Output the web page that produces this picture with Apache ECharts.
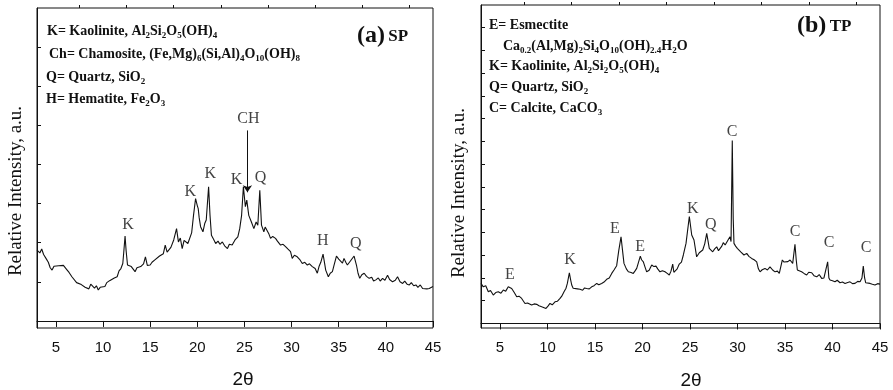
<!DOCTYPE html>
<html>
<head>
<meta charset="utf-8">
<script src="https://cdn.jsdelivr.net/npm/echarts@6/dist/echarts.min.js"></script>
<style>
  html, body { margin: 0; padding: 0; background: #fff; }
  #chart { width: 893px; height: 390px; }
</style>
</head>
<body>
<div id="chart"></div>
<script>
var myChart = echarts.init(document.getElementById("chart"));

// 2θ values and relative intensity (a.u.)
const spTheta = [3.0,3.3,3.5,3.7,4.0,4.2,4.4,4.6,4.8,5.0,5.3,5.5,5.8,6.0,6.2,6.4,6.7,6.9,7.2,7.4,7.7,7.9,8.1,8.3,8.5,8.7,8.9,9.1,9.3,9.5,9.7,9.9,10.2,10.4,10.7,10.9,11.2,11.5,11.7,11.9,12.1,12.2,12.34,12.45,12.6,12.8,13.0,13.2,13.4,13.6,13.8,14.0,14.3,14.5,14.7,15.0,15.2,15.5,15.7,16.0,16.2,16.4,16.6,16.8,17.0,17.2,17.5,17.8,18.0,18.2,18.4,18.6,18.8,19.0,19.2,19.4,19.6,19.82,20.0,20.1,20.2,20.35,20.6,20.8,20.95,21.2,21.35,21.5,21.7,21.95,22.2,22.4,22.66,22.9,23.2,23.4,23.7,24.0,24.3,24.5,24.7,24.89,25.1,25.25,25.46,25.74,26.0,26.24,26.42,26.63,26.81,27.06,27.2,27.41,27.6,27.77,28.0,28.3,28.5,28.83,29.1,29.36,29.6,29.89,30.07,30.3,30.6,30.9,31.14,31.4,31.67,31.9,32.2,32.5,32.73,32.91,33.1,33.34,33.5,33.62,33.9,34.1,34.33,34.5,34.76,35.0,35.21,35.4,35.56,35.75,35.92,36.2,36.63,36.88,37.05,37.23,37.45,37.7,37.95,38.23,38.5,38.7,38.94,39.2,39.4,39.65,39.9,40.18,40.4,40.71,41.0,41.24,41.5,41.78,42.0,42.25,42.49,42.7,42.95,43.19,43.4,43.65,43.9,44.1,44.35,44.6,44.8,45.0];
const spInt = [1.81,1.74,1.84,1.70,1.58,1.50,1.36,1.30,1.40,1.43,1.41,1.45,1.42,1.44,1.30,1.24,1.13,1.10,0.98,1.00,0.93,0.92,0.86,0.90,0.82,0.94,0.96,0.84,0.90,0.79,0.86,0.84,0.88,0.98,1.03,1.06,1.10,1.13,1.28,1.34,1.47,1.75,2.17,1.80,1.43,1.45,1.39,1.34,1.26,1.36,1.34,1.39,1.46,1.64,1.42,1.43,1.50,1.56,1.52,1.66,1.62,1.72,1.94,1.76,1.73,1.88,2.07,2.36,2.02,2.12,1.85,2.06,2.07,1.98,1.94,2.25,2.70,3.13,2.95,2.87,2.64,2.41,2.28,2.50,2.58,3.43,2.70,2.19,2.10,1.98,2.04,1.96,2.02,1.92,1.85,1.96,1.94,2.07,2.15,2.36,2.70,3.43,2.92,3.09,2.70,2.53,2.36,2.53,2.45,3.34,2.45,2.28,2.40,2.36,2.22,2.11,2.16,2.11,2.04,1.94,1.96,1.90,1.84,1.77,1.60,1.68,1.64,1.56,1.47,1.50,1.43,1.46,1.39,1.34,1.22,1.39,1.50,1.71,1.48,1.30,1.13,1.22,1.26,1.42,1.66,1.58,1.56,1.48,1.60,1.50,1.43,1.52,1.66,1.43,1.22,1.09,1.18,1.22,1.14,1.09,1.12,1.02,1.05,1.10,1.02,1.09,1.04,1.17,1.06,1.00,1.04,1.13,1.00,0.96,1.02,0.94,0.92,0.98,0.90,0.92,0.86,0.92,0.83,0.88,0.82,0.83,0.80,0.88];

const tpTheta = [3.0,3.24,3.5,3.77,4.0,4.29,4.55,4.82,5.1,5.35,5.6,5.87,6.05,6.23,6.5,6.76,7.0,7.28,7.45,7.63,7.9,8.1,8.33,8.6,8.86,9.1,9.39,9.6,9.84,10.05,10.26,10.5,10.79,11.05,11.32,11.5,11.74,11.95,12.09,12.3,12.42,12.55,12.7,12.9,13.15,13.42,13.7,13.9,14.12,14.4,14.65,14.9,15.18,15.4,15.7,15.95,16.23,16.5,16.76,17.0,17.28,17.5,17.74,17.9,18.05,18.3,18.51,18.8,19.03,19.2,19.39,19.77,19.9,20.09,20.25,20.44,20.7,20.97,21.2,21.42,21.6,21.84,22.1,22.37,22.6,22.82,23.0,23.18,23.3,23.42,23.65,23.87,24.1,24.3,24.58,24.93,25.18,25.42,25.7,25.98,26.34,26.55,26.76,27.03,27.2,27.39,27.6,27.81,28.0,28.16,28.35,28.5,28.7,28.86,29.05,29.21,29.32,29.45,29.55,29.63,29.8,29.98,30.15,30.34,30.5,30.68,30.97,31.2,31.49,31.75,32.02,32.2,32.37,32.6,32.89,33.15,33.42,33.7,33.95,34.2,34.4,34.72,34.9,35.1,35.3,35.53,35.81,36.05,36.18,36.3,36.5,36.75,37.0,37.28,37.5,37.81,38.05,38.34,38.6,38.86,39.1,39.29,39.49,39.62,39.74,40.0,40.26,40.5,40.79,41.05,41.32,41.6,41.84,42.1,42.37,42.65,42.9,43.1,43.24,43.38,43.49,43.7,43.95,44.2,44.47,44.75,45.0];
const tpInt = [1.76,1.61,1.66,1.39,1.45,1.25,1.36,1.39,1.33,1.47,1.42,1.61,1.56,1.54,1.36,1.17,1.20,1.10,1.02,0.88,0.90,0.84,0.81,0.86,0.84,0.78,0.73,0.80,0.66,0.76,0.88,0.82,0.95,0.98,1.10,1.20,1.39,1.55,1.76,2.23,1.95,1.69,1.55,1.47,1.52,1.50,1.46,1.56,1.54,1.52,1.61,1.66,1.76,1.70,1.76,1.82,1.94,2.00,2.20,2.35,2.54,3.20,3.81,3.20,2.64,2.40,2.27,2.24,2.20,2.30,2.42,2.96,2.80,2.71,2.50,2.27,2.34,2.57,2.50,2.52,2.40,2.27,2.32,2.27,2.20,2.13,2.30,2.61,2.25,2.20,2.40,2.61,2.70,3.01,3.52,4.70,3.89,3.67,2.93,3.11,3.23,3.50,3.96,3.30,3.22,3.15,3.28,3.37,3.20,3.15,3.40,3.55,3.45,3.52,3.70,3.81,3.60,8.04,4.60,3.52,3.40,3.30,3.36,3.15,3.20,3.01,3.08,2.95,2.86,2.80,2.71,2.40,2.27,2.36,2.42,2.35,2.49,2.35,2.27,2.30,2.20,2.79,2.70,2.64,2.72,2.79,2.64,3.48,2.80,2.35,2.30,2.27,2.20,2.13,2.25,2.23,2.10,2.05,2.15,1.98,2.00,1.94,2.71,2.00,1.91,1.88,1.83,1.90,1.79,1.82,1.76,1.80,1.83,1.75,1.76,1.85,1.83,2.00,2.52,2.00,1.79,1.80,1.76,1.72,1.69,1.75,1.73];

// peak labels: 2θ, label height (a.u.), phase letter
const spPeakTheta = [12.66, 19.26, 21.38, 24.15, 26.70, 33.30, 36.81, 25.43];
const spPeakPos = [2.47, 3.29, 3.75, 3.62, 3.65, 2.04, 1.96, 5.18];
const spPeakText = ["K", "K", "K", "K", "Q", "H", "Q", "CH"];
const chArrow = [[25.32, 4.87], [25.32, 3.29]];

const tpPeakTheta = [6.05, 12.37, 17.10, 19.74, 25.30, 27.20, 29.42, 36.05, 39.63, 43.53];
const tpPeakPos = [2.13, 2.79, 4.15, 3.36, 5.03, 4.33, 8.43, 4.02, 3.54, 3.32];
const tpPeakText = ["E", "K", "E", "E", "K", "Q", "C", "C", "C", "C"];

// axis ticks
const xLabels = [5, 10, 15, 20, 25, 30, 35, 40, 45];
const xMinor = [7.5, 12.5, 17.5, 22.5, 27.5, 32.5, 37.5, 42.5];
const spYTicks = [0, 1, 2, 3, 4, 5, 6, 7];
const tpYTicks = [0, 1, 2, 3, 4, 5, 6, 7, 8, 9, 10, 11, 12, 13];

const spLegend = [
  "K= Kaolinite, Al_2Si_2O_5(OH)_4",
  "Ch= Chamosite, (Fe,Mg)_6(Si,Al)_4O_10(OH)_8",
  "Q= Quartz, SiO_2",
  "H= Hematite, Fe_2O_3",
];
const tpLegend = [
  "E= Esmectite",
  "Ca_0.2(Al,Mg)_2Si_4O_10(OH)_2.4H_2O",
  "K= Kaolinite, Al_2Si_2O_5(OH)_4",
  "Q= Quartz, SiO_2",
  "C= Calcite, CaCO_3",
];

const serif = "'Liberation Serif', 'Times New Roman', serif";
const sans = "'Liberation Sans', Arial, sans-serif";

function zip(a, b) {
  return a.map((v, i) => [v, b[i]]);
}
function sub(str) {
  return "{b|" + str.replace(/_([\d.]+)/g, "}{s|$1}{b|") + "}";
}
const richSub = {
  b: { fontFamily: serif, fontWeight: "bold", fontSize: 14, lineHeight: 19, verticalAlign: "middle", fill: "#111" },
  s: { fontFamily: serif, fontWeight: "bold", fontSize: 9, lineHeight: 19, verticalAlign: "bottom", fill: "#111" },
};
function legendText(x, y, str) {
  return {
    type: "text", x: x, y: y,
    style: { text: sub(str), rich: richSub, verticalAlign: "middle", align: "left" },
  };
}

function xAxisPair(grid) {
  return [
    {
      gridIndex: grid, type: "value", min: 3, max: 45,
      axisLine: { lineStyle: { color: "#111", width: 1 } },
      axisTick: { customValues: xLabels, length: 6, lineStyle: { color: "#111" } },
      axisLabel: { customValues: xLabels, fontFamily: sans, fontSize: 15, color: "#111", margin: 12 },
      splitLine: { show: false },
    },
    {
      gridIndex: grid, type: "value", min: 3, max: 45,
      axisLine: { show: false },
      axisTick: { customValues: xMinor, length: 3, lineStyle: { color: "#111" } },
      axisLabel: { show: false },
      splitLine: { show: false },
    },
  ];
}
function yAxis(grid, min, max, ticks) {
  return {
    gridIndex: grid, type: "value", min: min, max: max,
    axisLine: { show: true, lineStyle: { color: "#111", width: 1 } },
    axisTick: { show: true, inside: true, length: 4, customValues: ticks, lineStyle: { color: "#111" } },
    axisLabel: { show: false },
    splitLine: { show: false },
  };
}
function peakSeries(x, y, theta, pos, text) {
  return {
    type: "scatter", xAxisIndex: x, yAxisIndex: y,
    symbolSize: 1, itemStyle: { color: "rgba(0,0,0,0)" }, silent: true,
    data: theta.map((t, i) => ({ value: [t, pos[i]], name: text[i] })),
    label: { show: true, position: "inside", formatter: "{b}", fontFamily: serif, fontSize: 16, color: "#111" },
    z: 5,
  };
}
function panelTitle(x, y, a, b) {
  return {
    type: "text", x: x, y: y,
    style: {
      text: "{p|" + a + "} {q|" + b + "}", verticalAlign: "middle",
      rich: {
        p: { fontFamily: serif, fontWeight: "bold", fontSize: 24, lineHeight: 26, verticalAlign: "middle", fill: "#111" },
        q: { fontFamily: serif, fontWeight: "bold", fontSize: 17, lineHeight: 17, verticalAlign: "bottom", padding: [0, 0, 4, 0], fill: "#111" },
      },
    },
  };
}

const option = {
  backgroundColor: "#fff",
  animation: false,
  grid: [
    { left: 37, right: 460, top: 8, bottom: 62, show: true, borderColor: "#111", borderWidth: 1 },
    { left: 481, right: 13, top: 5, bottom: 62, show: true, borderColor: "#111", borderWidth: 1 },
  ],
  xAxis: [...xAxisPair(0), ...xAxisPair(1)],
  yAxis: [yAxis(0, -0.18, 8, spYTicks), yAxis(1, -0.2, 14, tpYTicks)],
  series: [
    {
      type: "line", xAxisIndex: 0, yAxisIndex: 0,
      data: zip(spTheta, spInt), showSymbol: false,
      lineStyle: { color: "#111", width: 1.1 },
      markLine: {
        silent: true, symbol: ["none", "arrow"], symbolSize: 7,
        lineStyle: { color: "#111", width: 1, type: "solid" },
        label: { show: false },
        data: [[{ coord: chArrow[0] }, { coord: chArrow[1] }]],
      },
    },
    {
      type: "line", xAxisIndex: 2, yAxisIndex: 1,
      data: zip(tpTheta, tpInt), showSymbol: false,
      lineStyle: { color: "#111", width: 1.1 },
    },
    peakSeries(0, 0, spPeakTheta, spPeakPos, spPeakText),
    peakSeries(2, 1, tpPeakTheta, tpPeakPos, tpPeakText),
  ],
  graphic: [
    legendText(47, 31, spLegend[0]),
    legendText(49, 54, spLegend[1]),
    legendText(46, 77, spLegend[2]),
    legendText(46, 99, spLegend[3]),
    legendText(489, 25, tpLegend[0]),
    legendText(503, 46, tpLegend[1]),
    legendText(489, 66, tpLegend[2]),
    legendText(489, 87, tpLegend[3]),
    legendText(489, 108, tpLegend[4]),
    panelTitle(357, 36, "(a)", "SP"),
    panelTitle(797, 26, "(b)", "TP"),
    {
      type: "text", x: 16, y: 191, rotation: Math.PI / 2,
      style: { text: "Relative Intensity, a.u.", fontFamily: serif, fontSize: 19, fill: "#111", align: "center", verticalAlign: "middle" },
    },
    {
      type: "text", x: 459, y: 193, rotation: Math.PI / 2,
      style: { text: "Relative Intensity, a.u.", fontFamily: serif, fontSize: 19, fill: "#111", align: "center", verticalAlign: "middle" },
    },
    {
      type: "text", x: 243, y: 380,
      style: { text: "2θ", fontFamily: sans, fontSize: 19, fill: "#111", align: "center", verticalAlign: "middle" },
    },
    {
      type: "text", x: 691, y: 381,
      style: { text: "2θ", fontFamily: sans, fontSize: 19, fill: "#111", align: "center", verticalAlign: "middle" },
    },
  ],
};

myChart.setOption(option);
</script>
</body>
</html>
